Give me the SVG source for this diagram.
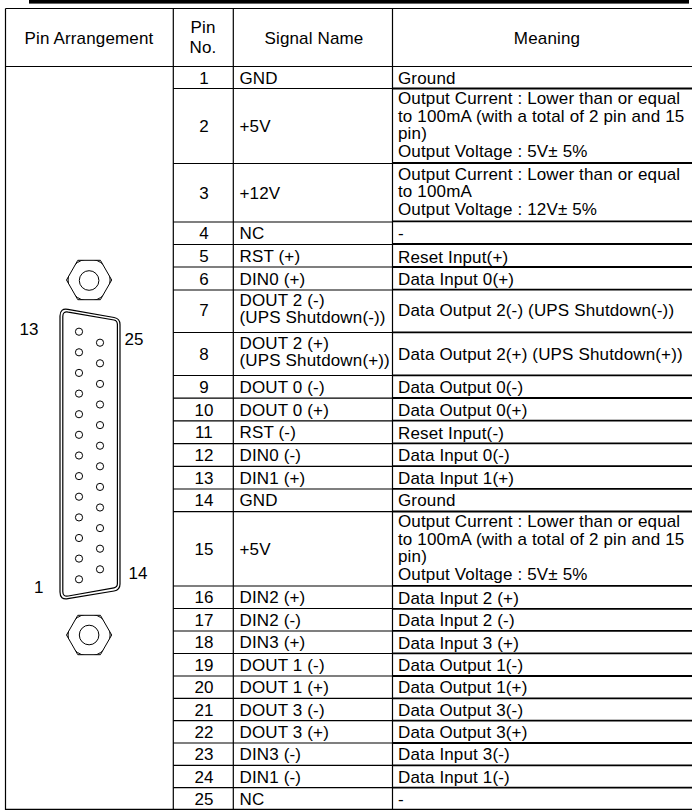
<svg xmlns="http://www.w3.org/2000/svg" width="692" height="810" viewBox="0 0 692 810">
<style>
.t{font-family:"Liberation Sans",Arial,Helvetica,sans-serif;font-size:17px;letter-spacing:0.15px;fill:#000}
.c{text-anchor:middle}
.g{stroke:#000;stroke-width:1.2;fill:none}
.m{stroke:#000;stroke-width:1.8;fill:none}
.o{stroke:#000;stroke-width:1;fill:#fff}
.pin{stroke:#000;stroke-width:1;fill:none}
</style>
<defs>
<clipPath id="hexTop"><polygon points="66.5,280 77.8,260.3 100.4,260.3 111.7,280 100.4,299.7 77.8,299.7"/></clipPath>
<clipPath id="hexBot"><polygon points="66.5,635 77.8,615.3 100.4,615.3 111.7,635 100.4,654.7 77.8,654.7"/></clipPath>
</defs>
<rect width="692" height="810" fill="#fff"/>
<rect x="29" y="0" width="660" height="3.6" fill="#000"/>

<g id="grid">
<line class="g" x1="5.5" y1="8.5" x2="692" y2="8.5"/>
<line class="g" x1="5.5" y1="8.5" x2="5.5" y2="810"/>
<line class="g" x1="173.3" y1="8.5" x2="173.3" y2="810"/>
<line class="g" x1="233.3" y1="8.5" x2="233.3" y2="810"/>
<line class="g" x1="392.5" y1="8.5" x2="392.5" y2="810"/>
<line class="g" x1="5.5" y1="66.5" x2="692" y2="66.5"/>
<line class="g" x1="5.5" y1="809.3" x2="692" y2="809.3"/>
<path class="g" d="M173.3 88.5H392.5M173.3 163.5H392.5M173.3 222H392.5M173.3 244.5H392.5M173.3 267H392.5M173.3 290H392.5M173.3 332.5H392.5M173.3 375.5H392.5M173.3 398.2H392.5M173.3 420.9H392.5M173.3 443.6H392.5M173.3 466.3H392.5M173.3 489H392.5M173.3 511.7H392.5M173.3 586H392.5M173.3 608.5H392.5M173.3 631H392.5M173.3 653.5H392.5M173.3 676H392.5M173.3 698.3H392.5M173.3 720.6H392.5M173.3 743H392.5M173.3 765.3H392.5M173.3 787.6H392.5"/>
<path class="m" d="M392.5 88.5H692M392.5 163H692M392.5 221.3H692M392.5 244H692M392.5 267H692M392.5 289.7H692M392.5 332.3H692M392.5 375.3H692M392.5 398H692M392.5 420.7H692M392.5 443.4H692M392.5 466.1H692M392.5 488.8H692M392.5 511.5H692M392.5 585.8H692M392.5 608.8H692M392.5 630.8H692M392.5 653.3H692M392.5 676H692M392.5 698.3H692M392.5 720.6H692M392.5 743H692M392.5 765.3H692M392.5 787.6H692"/>
</g>

<g id="header">
<text class="t c" x="89" y="43.6">Pin Arrangement</text>
<text class="t c" x="203" y="33.3">Pin<tspan x="203" y="53.3">No.</tspan></text>
<text class="t c" x="314" y="43.6">Signal Name</text>
<text class="t c" x="547" y="43.6">Meaning</text>
</g>

<g id="connector">
<g id="nut-top">
<polygon class="o" points="66.5,280 77.8,260.3 100.4,260.3 111.7,280 100.4,299.7 77.8,299.7"/>
<circle class="pin" cx="89.1" cy="280" r="21" clip-path="url(#hexTop)"/>
<circle class="pin" cx="89.1" cy="280.5" r="9.8"/>
</g>
<g id="shell">
<path class="g" d="M60 316Q60 308 67.9 309.4L114.1 317.5Q120 318.5 120 324.5L120 584Q120 590 114.1 591L67.9 598.7Q60 600 60 592Z"/>
<path class="g" d="M62.8 316.5Q62.8 311 68.3 312.1L114 320Q117.4 320.7 117.4 324.5L117.4 583.6Q117.4 587.3 114 587.9L68.3 596Q62.8 597 62.8 591.5Z"/>
</g>
<g id="pins">
<circle class="pin" cx="79" cy="331.7" r="3.6"/>
<circle class="pin" cx="79" cy="352.3" r="3.6"/>
<circle class="pin" cx="79" cy="372.9" r="3.6"/>
<circle class="pin" cx="79" cy="393.6" r="3.6"/>
<circle class="pin" cx="79" cy="414.2" r="3.6"/>
<circle class="pin" cx="79" cy="434.8" r="3.6"/>
<circle class="pin" cx="79" cy="455.5" r="3.6"/>
<circle class="pin" cx="79" cy="476.1" r="3.6"/>
<circle class="pin" cx="79" cy="496.7" r="3.6"/>
<circle class="pin" cx="79" cy="517.4" r="3.6"/>
<circle class="pin" cx="79" cy="538" r="3.6"/>
<circle class="pin" cx="79" cy="558.6" r="3.6"/>
<circle class="pin" cx="79" cy="579.3" r="3.6"/>
<circle class="pin" cx="100" cy="342.7" r="3.6"/>
<circle class="pin" cx="100" cy="363.3" r="3.6"/>
<circle class="pin" cx="100" cy="383.9" r="3.6"/>
<circle class="pin" cx="100" cy="404.5" r="3.6"/>
<circle class="pin" cx="100" cy="425.1" r="3.6"/>
<circle class="pin" cx="100" cy="445.7" r="3.6"/>
<circle class="pin" cx="100" cy="466.3" r="3.6"/>
<circle class="pin" cx="100" cy="486.9" r="3.6"/>
<circle class="pin" cx="100" cy="507.5" r="3.6"/>
<circle class="pin" cx="100" cy="528.1" r="3.6"/>
<circle class="pin" cx="100" cy="548.7" r="3.6"/>
<circle class="pin" cx="100" cy="569.3" r="3.6"/>
</g>
<g id="nut-bottom">
<polygon class="o" points="66.5,635 77.8,615.3 100.4,615.3 111.7,635 100.4,654.7 77.8,654.7"/>
<circle class="pin" cx="89.1" cy="635" r="21" clip-path="url(#hexBot)"/>
<circle class="pin" cx="89.1" cy="635" r="9.8"/>
</g>
<g id="pin-labels">
<text class="t" x="19.5" y="334.5">13</text>
<text class="t" x="124.5" y="344.5">25</text>
<text class="t" x="34" y="592.8">1</text>
<text class="t" x="128.5" y="579.4">14</text>
</g>
</g>

<g id="connectors"></g>

<g id="row1"><text class="t c" x="204" y="83.5">1</text><text class="t" x="239.5" y="83.5">GND</text><text class="t" x="398" y="83.5">Ground</text></g>
<g id="row2"><text class="t c" x="204" y="132">2</text><text class="t" x="239.5" y="132">+5V</text>
<text class="t" x="398" y="104">Output Current : Lower than or equal<tspan x="398" y="121.5">to 100mA (with a total of 2 pin and 15</tspan><tspan x="398" y="139">pin)</tspan><tspan x="398" y="156.5">Output Voltage : 5V± 5%</tspan></text></g>
<g id="row3"><text class="t c" x="204" y="198.8">3</text><text class="t" x="239.5" y="198.8">+12V</text>
<text class="t" x="398" y="179.5">Output Current : Lower than or equal<tspan x="398" y="197">to 100mA</tspan><tspan x="398" y="214.5">Output Voltage : 12V± 5%</tspan></text></g>
<g id="row4"><text class="t c" x="204" y="239.3">4</text><text class="t" x="239.5" y="239.3">NC</text><text class="t" x="398" y="239.3">-</text></g>
<g id="row5"><text class="t c" x="204" y="261.8">5</text><text class="t" x="239.5" y="261.8">RST (+)</text><text class="t" x="398" y="262.5">Reset Input(+)</text></g>
<g id="row6"><text class="t c" x="204" y="284.5">6</text><text class="t" x="239.5" y="284.5">DIN0 (+)</text><text class="t" x="398" y="285">Data Input 0(+)</text></g>
<g id="row7"><text class="t c" x="204" y="315.5">7</text><text class="t" x="239.5" y="305.5">DOUT 2 (-)<tspan x="239.5" y="323">(UPS Shutdown(-))</tspan></text><text class="t" x="398" y="315.5">Data Output 2(-) (UPS Shutdown(-))</text></g>
<g id="row8"><text class="t c" x="204" y="359.5">8</text><text class="t" x="239.5" y="348.5">DOUT 2 (+)<tspan x="239.5" y="366">(UPS Shutdown(+))</tspan></text><text class="t" x="398" y="360">Data Output 2(+) (UPS Shutdown(+))</text></g>
<g id="row9"><text class="t c" x="204" y="392.9">9</text><text class="t" x="239.5" y="392.9">DOUT 0 (-)</text><text class="t" x="398" y="393.3">Data Output 0(-)</text></g>
<g id="row10"><text class="t c" x="204" y="415.6">10</text><text class="t" x="239.5" y="415.6">DOUT 0 (+)</text><text class="t" x="398" y="416">Data Output 0(+)</text></g>
<g id="row11"><text class="t c" x="204" y="438.3">11</text><text class="t" x="239.5" y="438.3">RST (-)</text><text class="t" x="398" y="438.7">Reset Input(-)</text></g>
<g id="row12"><text class="t c" x="204" y="461">12</text><text class="t" x="239.5" y="461">DIN0 (-)</text><text class="t" x="398" y="461.4">Data Input 0(-)</text></g>
<g id="row13"><text class="t c" x="204" y="483.7">13</text><text class="t" x="239.5" y="483.7">DIN1 (+)</text><text class="t" x="398" y="484">Data Input 1(+)</text></g>
<g id="row14"><text class="t c" x="204" y="506.4">14</text><text class="t" x="239.5" y="506.4">GND</text><text class="t" x="398" y="506.4">Ground</text></g>
<g id="row15"><text class="t c" x="204" y="554.9">15</text><text class="t" x="239.5" y="554.9">+5V</text>
<text class="t" x="398" y="527">Output Current : Lower than or equal<tspan x="398" y="544.5">to 100mA (with a total of 2 pin and 15</tspan><tspan x="398" y="562">pin)</tspan><tspan x="398" y="579.5">Output Voltage : 5V± 5%</tspan></text></g>
<g id="row16"><text class="t c" x="204" y="603.3">16</text><text class="t" x="239.5" y="603.3">DIN2 (+)</text><text class="t" x="398" y="603.6">Data Input 2 (+)</text></g>
<g id="row17"><text class="t c" x="204" y="625.8">17</text><text class="t" x="239.5" y="625.8">DIN2 (-)</text><text class="t" x="398" y="626.3">Data Input 2 (-)</text></g>
<g id="row18"><text class="t c" x="204" y="648.3">18</text><text class="t" x="239.5" y="648.3">DIN3 (+)</text><text class="t" x="398" y="648.5">Data Input 3 (+)</text></g>
<g id="row19"><text class="t c" x="204" y="670.8">19</text><text class="t" x="239.5" y="670.8">DOUT 1 (-)</text><text class="t" x="398" y="670.8">Data Output 1(-)</text></g>
<g id="row20"><text class="t c" x="204" y="693.2">20</text><text class="t" x="239.5" y="693.2">DOUT 1 (+)</text><text class="t" x="398" y="693.2">Data Output 1(+)</text></g>
<g id="row21"><text class="t c" x="204" y="715.5">21</text><text class="t" x="239.5" y="715.5">DOUT 3 (-)</text><text class="t" x="398" y="715.5">Data Output 3(-)</text></g>
<g id="row22"><text class="t c" x="204" y="737.8">22</text><text class="t" x="239.5" y="737.8">DOUT 3 (+)</text><text class="t" x="398" y="737.8">Data Output 3(+)</text></g>
<g id="row23"><text class="t c" x="204" y="760.2">23</text><text class="t" x="239.5" y="760.2">DIN3 (-)</text><text class="t" x="398" y="760.2">Data Input 3(-)</text></g>
<g id="row24"><text class="t c" x="204" y="782.5">24</text><text class="t" x="239.5" y="782.5">DIN1 (-)</text><text class="t" x="398" y="782.5">Data Input 1(-)</text></g>
<g id="row25"><text class="t c" x="204" y="804.6">25</text><text class="t" x="239.5" y="804.6">NC</text><text class="t" x="398" y="804.6">-</text></g>
</svg>
